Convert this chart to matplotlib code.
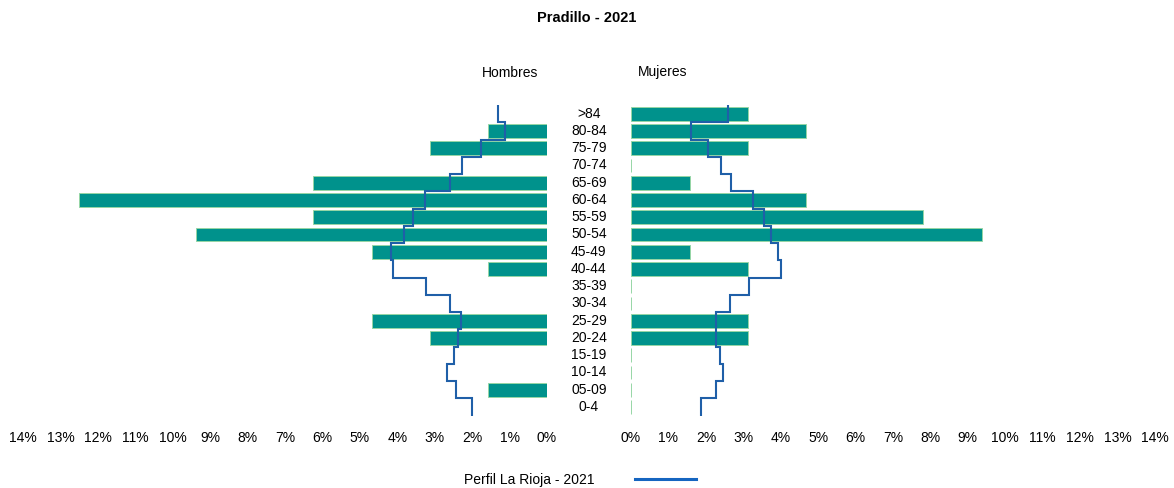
import numpy as np
import matplotlib
matplotlib.use('Agg')
import matplotlib.pyplot as plt
import matplotlib.transforms as mtransforms
from matplotlib.lines import Line2D

plt.rcParams['font.family'] = ['Liberation Sans', 'DejaVu Sans']

ages = ['0-4', '05-09', '10-14', '15-19', '20-24', '25-29', '30-34', '35-39', '40-44',
        '45-49', '50-54', '55-59', '60-64', '65-69', '70-74', '75-79', '80-84', '>84']
hombres = [0, 1.5625, 0, 0, 3.125, 4.6875, 0, 0, 1.5625,
           4.6875, 9.375, 6.25, 12.5, 6.25, 0, 3.125, 1.5625, 0]
mujeres = [0, 0, 0, 0, 3.125, 3.125, 0, 0, 3.125,
           1.5625, 9.375, 7.8125, 4.6875, 1.5625, 0, 3.125, 4.6875, 3.125]
rioja_h = [2.0, 2.43, 2.66, 2.48, 2.38, 2.31, 2.60, 3.22, 4.12,
           4.18, 3.82, 3.58, 3.26, 2.60, 2.27, 1.77, 1.13, 1.31]
rioja_m = [1.87, 2.26, 2.45, 2.37, 2.28, 2.26, 2.64, 3.15, 4.01,
           3.92, 3.73, 3.56, 3.27, 2.67, 2.41, 2.07, 1.60, 2.60]
xticks = list(range(0, 15))

bar_col = '#00928c'
edge_col = '#96d6a6'
line_col = '#1f5fa8'

fig = plt.figure(figsize=(11.74, 4.88), dpi=100)
axl = fig.add_axes([0.0196, 0.1484, 0.4463, 0.6363])
axr = fig.add_axes([0.5375, 0.1484, 0.4463, 0.6363])

y = np.arange(len(ages))
edges = np.arange(len(ages) + 1) - 0.5

for ax, vals, prof in [(axl, hombres, rioja_h), (axr, mujeres, rioja_m)]:
    ax.barh(y, vals, height=0.8, color=bar_col, edgecolor=edge_col, linewidth=0.7)
    ax.stairs(prof, edges, orientation='horizontal', baseline=None,
              color=line_col, linewidth=1.5)
    ax.set_ylim(-0.5, len(ages) - 0.5)
    ax.set_xlim(0, 14)
    ax.set_xticks(xticks)
    ax.set_xticklabels([f'{t}%' for t in xticks])
    ax.tick_params(axis='x', length=0, pad=11, labelsize=10)
    ax.set_yticks([])
    for s in ax.spines.values():
        s.set_visible(False)

axl.invert_xaxis()

# etiquetas de edad en el centro
trans = mtransforms.blended_transform_factory(fig.transFigure, axl.transData)
for i, lab in enumerate(ages):
    fig.text(0.5015, i, lab, transform=trans, ha='center', va='center', fontsize=10)

fig.text(0.5, 0.963, 'Pradillo - 2021', ha='center', va='center', fontsize=10.5, fontweight='bold')
fig.text(0.4344, 0.850, 'Hombres', ha='center', va='center', fontsize=10)
fig.text(0.5647, 0.852, 'Mujeres', ha='center', va='center', fontsize=10)

handle = Line2D([], [], color='#1565c0', linewidth=2.2)
fig.legend(handles=[handle], labels=['Perfil La Rioja - 2021'], markerfirst=False,
           loc='center', bbox_to_anchor=(0.494, 0.0174), frameon=False,
           handlelength=4.4, handletextpad=2.9, fontsize=10)

fig.savefig('out.png', dpi=100)
